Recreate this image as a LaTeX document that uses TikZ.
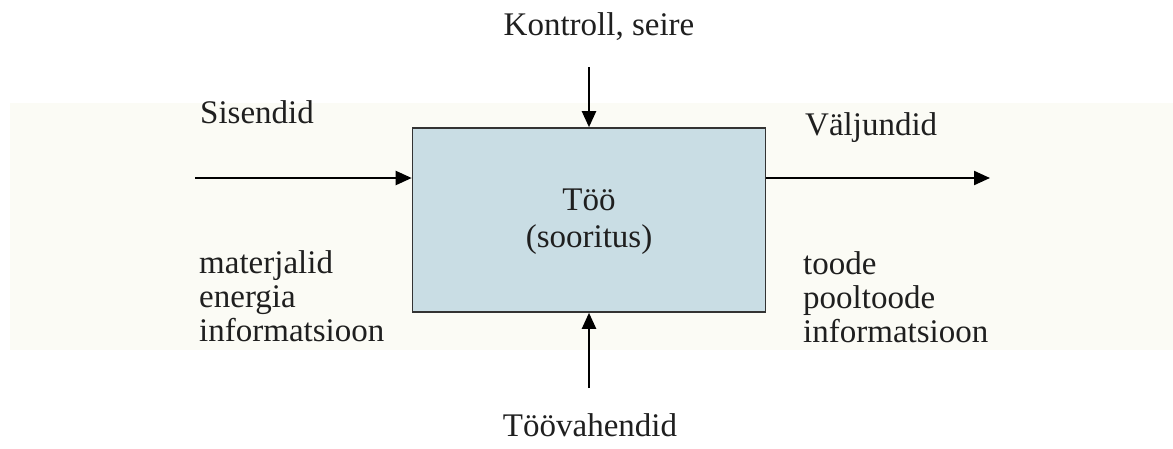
\documentclass[tikz,border=0pt]{standalone}
\usepackage{fontspec}
\setmainfont{Liberation Serif}
\usetikzlibrary{positioning,arrows.meta}
\definecolor{bandcol}{RGB}{251,251,245}
\definecolor{boxcol}{RGB}{201,221,228}

\begin{document}
\begin{tikzpicture}[x=1pt,y=-1pt,
    lbl/.style={font=\fontsize{33}{34}\selectfont, inner sep=0pt, text=black!88},
    flow/.style={-{Triangle[length=16pt,width=14pt]}, line width=2.2pt}]
    \useasboundingbox (0,0) rectangle (1173,448);
    \def\band{(10,103) rectangle (1173,350)}

    \fill[bandcol] \band;

    \node[draw=black!80, line width=1.6pt, fill=boxcol, minimum width=353pt,
        minimum height=184pt, inner sep=0pt] (too) at (589,220) {};
    % base of a multi-line node = last line
    \node[lbl, font=\fontsize{33}{37}\selectfont, align=center, anchor=base] (toonimi) at (589,247) {Töö\\(sooritus)};

    \node[lbl, anchor=base] (kontroll) at (599,35) {Kontroll, seire};
    \node[lbl, anchor=base] (vahendid) at (590,436) {Töövahendid};
    \node[lbl, anchor=base west] (sisendid) at (200,123) {Sisendid};
    \node[lbl, anchor=base west] (valjundid) at (805,135) {Väljundid};
    \node[lbl, align=left, anchor=base west] (sisse) at (199,341) {materjalid\\energia\\informatsioon};
    \node[lbl, align=left, anchor=base west] (valja) at (803,342) {toode\\pooltoode\\informatsioon};

    \coordinate (kin) at (589,67);
    \coordinate (vin) at (589,388);
    \coordinate (sin) at (195,178);
    \coordinate (vout) at (990,178);

    \draw[flow] (kin) -- (too.north);
    \draw[flow] (vin) -- (too.south);
    \draw[flow] (sin) -- (too.west |- sin);
    \draw[flow] (too.east |- vout) -- (vout);
\end{tikzpicture}
\end{document}
